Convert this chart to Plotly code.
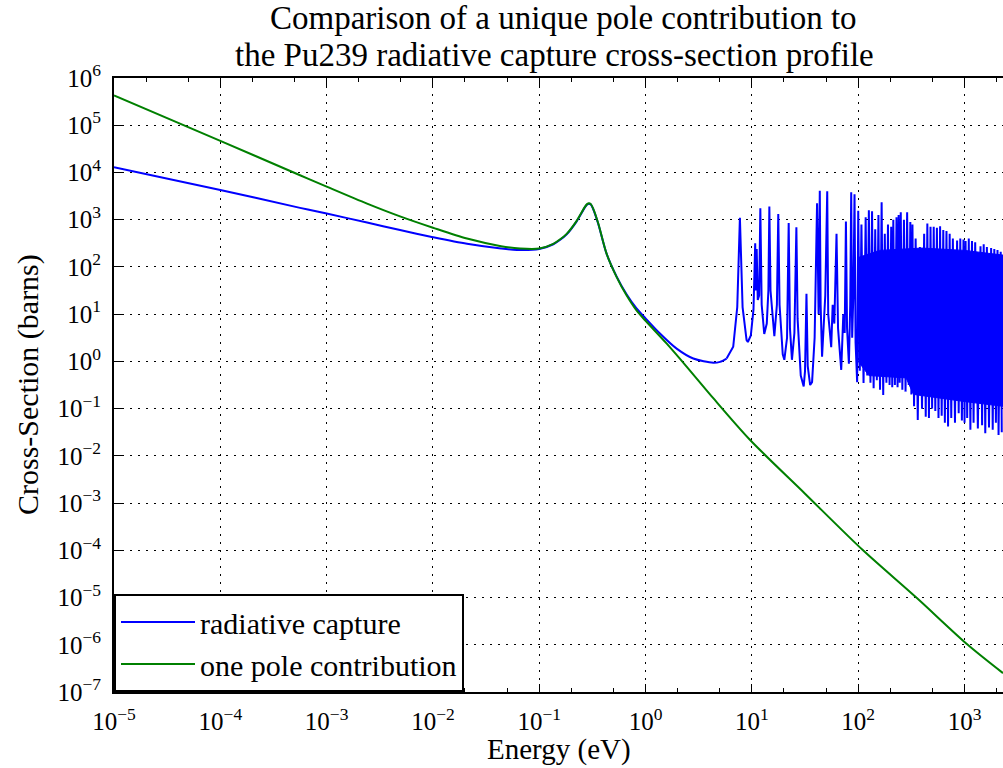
import plotly.graph_objects as go

# ---------------- data ----------------
# one pole contribution (green)
pole_energy = [1e-5, 1e-4, 5.62e-4, 1e-3, 2.40e-3, 4.90e-3, 1e-2, 2.09e-2, 4.37e-2, 6.61e-2,
               0.1, 0.1355, 0.1585, 0.181, 0.224, 0.2685, 0.2818, 0.2931, 0.3055, 0.322,
               0.359, 0.4295, 0.533, 0.662, 0.822, 1.0, 1.574, 2.43, 4.33, 9.57,
               31.6, 111.0, 352.0, 1072.0, 2300.0]
pole_sigma = [4.27e5, 4.68e4, 8710, 5012, 2188, 1175, 676, 398, 275, 245,
              245, 309, 389, 501, 933, 1862, 2138, 2239, 2138, 1698,
              832, 191, 61.7, 25.1, 12.0, 7.24, 2.40, 0.776, 0.166, 0.0219,
              1.58e-3, 1e-4, 1e-5, 1e-6, 2.51e-7]

# radiative capture (blue): smooth low-energy part
capture_smooth_energy = [1e-5, 1e-4, 5.62e-4, 1e-3, 2.40e-3, 4.90e-3, 1e-2, 2.09e-2, 4.37e-2,
                         6.17e-2, 0.1, 0.1355, 0.1585, 0.181, 0.224, 0.2685, 0.2818, 0.2931,
                         0.3055, 0.322, 0.359, 0.4295, 0.533, 0.662, 0.822, 1.0, 1.365,
                         1.96, 2.81, 4.33, 5.01, 5.78]
capture_smooth_sigma = [1.29e4, 4.27e3, 1778, 1349, 871, 603, 427, 309, 245,
                        229, 240, 302, 380, 490, 912, 1820, 2089, 2188,
                        2089, 1660, 813, 191, 63.1, 26.3, 13.2, 8.13, 3.89,
                        1.86, 1.148, 0.933, 0.977, 1.148]

# radiative capture (blue): resolved resonances
capture_res_energy = [5.78, 6.67, 7.28, 7.71, 8.17, 8.91, 9.16, 9.77, 10.35, 10.74,
                      10.91, 11.09, 11.35, 11.70, 12.0, 12.36, 13.06, 13.8, 14.29, 14.59,
                      14.96, 16.26, 17.18, 17.70, 18.2, 19.5, 20.18, 21.4, 22.18, 22.8,
                      23.8, 25.1, 26.2, 26.9, 28.8, 30.7, 31.6, 32.6, 33.5, 35.3,
                      36.8, 38.9, 41.0, 41.7, 42.4, 43.5, 44.3, 45.7, 47.3, 49.0,
                      51.1, 52.2, 53.7, 55.7, 57.5, 59.6, 62.5, 64.6, 69.2, 72.4,
                      74.6, 76.6, 78.5, 81.7, 84.1, 85.9, 87.7, 90.2, 92.3, 94.4, 97.7]
capture_res_sigma = [1.148, 2.04, 14.1, 1096, 14.1, 2.82, 2.57, 3.55, 12.6, 316,
                     31.6, 240, 20.0, 25.1, 1738, 15.8, 3.80, 6.31, 31.6, 1905,
                     31.6, 3.43, 15.8, 1318, 15.8, 1.41, 1.08, 3.16, 851, 5.01,
                     1.08, 3.98, 692, 7.94, 0.501, 0.295, 0.631, 26.9, 0.794, 0.316,
                     0.363, 3.16, 2239, 20.0, 10.0, 4074, 15.8, 1.26, 6.31, 25.1,
                     3981, 10.0, 5.01, 2.0, 15.8, 6.31, 501, 5.01, 0.661, 10.0,
                     3.98, 912, 5.01, 0.891, 15.8, 3802, 3.16, 31.6, 3467, 2.51, 0.363]

# unresolved region: resonance tops and bottoms
peak_energy = [100, 107.2, 117.5, 125.9, 134.9, 144.5, 154.9, 166.0, 177.8, 190.5,
               204.2, 213.8, 229.1, 239.9, 251.2, 269.2, 288.4, 309.0, 323.6, 346.7,
               380.2, 416.9, 446.7, 478.6, 512.9, 549.5, 588.8, 631.0, 676.1, 724.4,
               776.2, 851.1, 912.0, 977.2, 1023, 1096, 1175, 1259, 1413, 1514,
               1622, 1778, 1905, 2042, 2188]
peak_sigma = [1549, 794, 1122, 1585, 1514, 631, 1259, 2344, 501, 794,
              708, 1000, 1122, 1259, 1445, 1000, 1445, 891, 794, 398,
              263, 501, 832, 708, 708, 676, 724, 603, 575, 501,
              398, 363, 398, 380, 355, 398, 355, 331, 275, 302,
              263, 251, 240, 229, 209]
trough_energy = [103.5, 112.2, 121.6, 130.3, 139.6, 149.6, 160.3, 171.8, 184.1, 197.2,
                 208.9, 221.3, 234.4, 245.5, 260.0, 278.6, 298.5, 316.2, 335.0, 363.1,
                 398.1, 431.5, 462.4, 495.5, 530.9, 568.9, 609.5, 653.1, 699.8, 749.9,
                 812.8, 881.0, 944.1, 1000, 1059, 1135, 1216, 1334, 1462, 1567,
                 1698, 1841, 1972, 2089, 2239]
trough_sigma = [0.631, 0.347, 0.501, 0.355, 0.269, 0.398, 0.251, 0.195, 0.355, 0.316,
                0.282, 0.316, 0.282, 0.355, 0.251, 0.229, 0.316, 0.2, 0.112, 0.0575,
                0.1, 0.0676, 0.0631, 0.1, 0.0891, 0.0631, 0.0708, 0.0501, 0.0417, 0.0631,
                0.0501, 0.0794, 0.0562, 0.0501, 0.0631, 0.0355, 0.0501, 0.038, 0.0447, 0.0302,
                0.0398, 0.0355, 0.0501, 0.0275, 0.0316]

# dense band core (always covered by the blue curve)
band_energy = [100, 158.5, 398, 1000, 2300]
band_upper = [158, 224, 251, 224, 178]
band_lower_energy = [100, 126, 282, 331, 1000, 2300]
band_lower = [1.0, 0.5, 0.447, 0.2, 0.141, 0.112]

x_tick_vals = [1e-5, 1e-4, 1e-3, 1e-2, 1e-1, 1e0, 1e1, 1e2, 1e3]
x_tick_text = ["10<sup>−5</sup>", "10<sup>−4</sup>", "10<sup>−3</sup>", "10<sup>−2</sup>",
               "10<sup>−1</sup>", "10<sup>0</sup>", "10<sup>1</sup>", "10<sup>2</sup>",
               "10<sup>3</sup>"]
y_tick_vals = [1e-7, 1e-6, 1e-5, 1e-4, 1e-3, 1e-2, 1e-1, 1e0, 1e1, 1e2, 1e3, 1e4, 1e5, 1e6]
y_tick_text = ["10<sup>−7</sup>", "10<sup>−6</sup>", "10<sup>−5</sup>", "10<sup>−4</sup>",
               "10<sup>−3</sup>", "10<sup>−2</sup>", "10<sup>−1</sup>", "10<sup>0</sup>",
               "10<sup>1</sup>", "10<sup>2</sup>", "10<sup>3</sup>", "10<sup>4</sup>",
               "10<sup>5</sup>", "10<sup>6</sup>"]

title_lines = ["Comparison of a unique pole contribution to",
               "the Pu239 radiative capture cross-section profile"]
x_title = "Energy (eV)"
y_title = "Cross-Section (barns)"

# ---------------- build ----------------
pts = list(zip(capture_res_energy, capture_res_sigma)) + list(zip(peak_energy, peak_sigma)) + \
      list(zip(trough_energy, trough_sigma))
pts.sort(key=lambda p: p[0])
res_x = [p[0] for p in pts]
res_y = [p[1] for p in pts]

FONT = "Liberation Serif"
BLUE = "#0000ff"
GREEN = "#008000"

fig = go.Figure()
fig.add_trace(go.Scatter(
    x=band_energy + band_lower_energy[::-1],
    y=band_upper + band_lower[::-1],
    fill="toself", fillcolor=BLUE, mode="lines",
    line=dict(color=BLUE, width=1), showlegend=False, hoverinfo="skip"))
fig.add_trace(go.Scatter(x=capture_smooth_energy, y=capture_smooth_sigma, mode="lines",
                         name="radiative capture", legendgroup="cap",
                         line=dict(color=BLUE, width=2, shape="spline", smoothing=0.8)))
fig.add_trace(go.Scatter(x=res_x, y=res_y, mode="lines", name="radiative capture",
                         legendgroup="cap", showlegend=False,
                         line=dict(color=BLUE, width=2)))
fig.add_trace(go.Scatter(x=pole_energy, y=pole_sigma, mode="lines",
                         name="one pole contribution",
                         line=dict(color=GREEN, width=2, shape="spline", smoothing=0.8)))

# plot area in pixels: x 114..1003, y 78..692
PW, PH = 889.0, 614.0
def px_x(px):
    return (px - 114) / PW
def px_y(py):
    return (692 - py) / PH

annotations = [
    dict(text=title_lines[0], x=px_x(563), y=px_y(18), xref="paper", yref="paper",
         xanchor="center", yanchor="middle", showarrow=False,
         font=dict(family=FONT, size=33, color="black")),
    dict(text=title_lines[1], x=px_x(554), y=px_y(55), xref="paper", yref="paper",
         xanchor="center", yanchor="middle", showarrow=False,
         font=dict(family=FONT, size=33, color="black")),
    dict(text=x_title, x=px_x(559), y=px_y(749), xref="paper", yref="paper",
         xanchor="center", yanchor="middle", showarrow=False,
         font=dict(family=FONT, size=29, color="black")),
    dict(text=y_title, x=px_x(28), y=px_y(385), xref="paper", yref="paper",
         xanchor="center", yanchor="middle", showarrow=False, textangle=-90,
         font=dict(family=FONT, size=30, color="black")),
]

fig.update_layout(
    width=1003, height=768,
    margin=dict(l=114, r=0, t=78, b=76),
    paper_bgcolor="white", plot_bgcolor="white",
    font=dict(family=FONT, size=24, color="black"),
    annotations=annotations,
    showlegend=True,
    legend=dict(x=0, y=0, xanchor="left", yanchor="bottom",
                bgcolor="white", bordercolor="black", borderwidth=2,
                font=dict(family=FONT, size=30, color="black"),
                itemwidth=74, tracegroupgap=0),
)
fig.update_xaxes(
    type="log", range=[-5, 3.3617],
    tickvals=x_tick_vals, ticktext=x_tick_text,
    ticks="inside", ticklen=8, tickwidth=1, tickcolor="black",
    showline=True, linecolor="black", linewidth=2, mirror="allticks",
    showgrid=True, gridcolor="black", gridwidth=1, griddash="2px,6px",
    zeroline=False, ticklabelstandoff=6,
    minor=dict(ticks="inside", ticklen=4, tickcolor="black", tickwidth=1, showgrid=False),
    tickfont=dict(family=FONT, size=25),
)
fig.update_yaxes(
    type="log", range=[-7, 6],
    tickvals=y_tick_vals, ticktext=y_tick_text,
    ticks="inside", ticklen=8, tickwidth=1, tickcolor="black",
    showline=True, linecolor="black", linewidth=2, mirror=False,
    showgrid=True, gridcolor="black", gridwidth=1, griddash="2px,6px",
    zeroline=False, ticklabelstandoff=6,
    tickfont=dict(family=FONT, size=25),
)

fig.write_html("out.html")
